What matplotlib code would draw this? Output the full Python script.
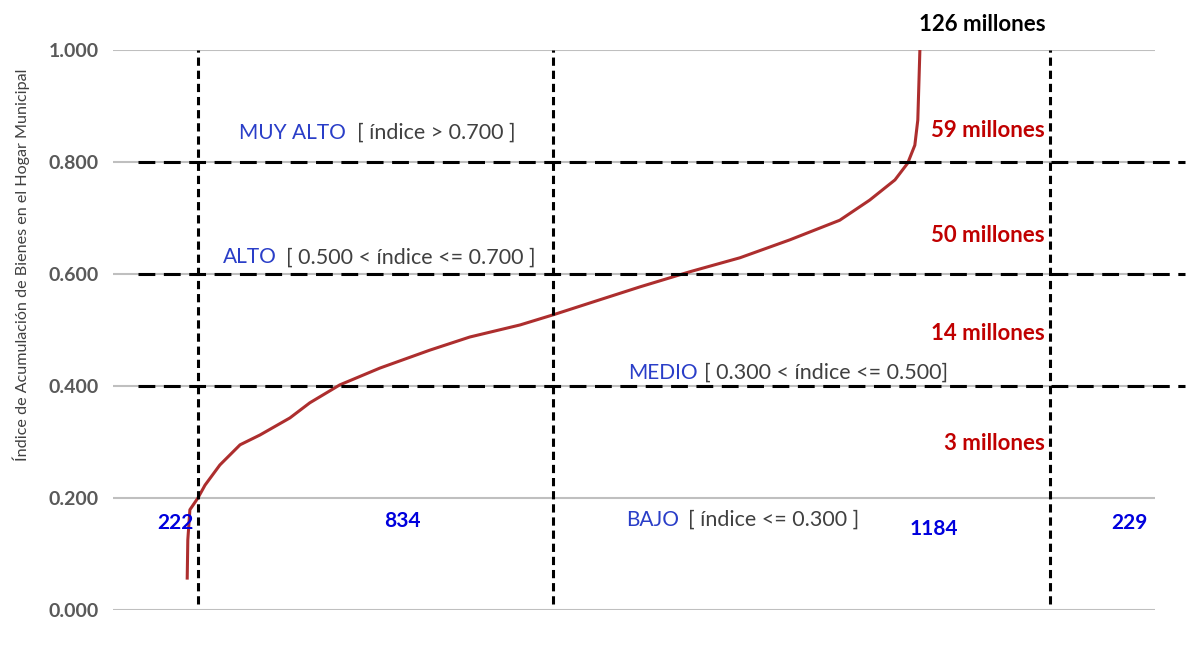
import matplotlib.pyplot as plt

plt.rcParams['font.family'] = ['Lato', 'DejaVu Sans']

# municipios ordenados por indice (rango) y valor del indice
rango = [1, 3, 10, 37, 61, 111, 179, 246, 347, 414, 515, 650, 818, 953, 1122,
         1233, 1391, 1526, 1694, 1863, 2031, 2199, 2300, 2385, 2428, 2452,
         2462, 2466, 2469]
indice = [0.057, 0.125, 0.179, 0.200, 0.223, 0.259, 0.295, 0.3125, 0.343,
          0.370, 0.402, 0.432, 0.464, 0.4875, 0.509, 0.527, 0.554, 0.577,
          0.604, 0.629, 0.661, 0.696, 0.732, 0.768, 0.798, 0.830, 0.875,
          0.946, 1.0]

niveles = ['MUY ALTO', 'ALTO', 'MEDIO', 'BAJO']
rangos_txt = ['[ índice > 0.700 ]', '[ 0.500 < índice <= 0.700 ]',
              '[ 0.300 < índice <= 0.500]', '[ índice <= 0.300 ]']
poblacion = ['59 millones', '50 millones', '14 millones', '3 millones']
conteos = ['222', '834', '1184', '229']

cortes_y = [0.8, 0.6, 0.4]
cortes_x = [37, 1233, 2907]

fig = plt.figure(figsize=(12, 6.51), dpi=100)
ax = fig.add_axes([113/1200, 41/651, 1042/1200, 560/651])
ax.set_xlim(-249, 3261)
ax.set_ylim(0, 1)

ax.set_yticks([0, 0.2, 0.4, 0.6, 0.8, 1.0])
ax.set_yticklabels(['0.000', '0.200', '0.400', '0.600', '0.800', '1.000'],
                   fontsize=14, fontweight='bold', color='#595959')
ax.set_xticks([])
ax.tick_params(axis='y', length=0, pad=10)
for s in ax.spines.values():
    s.set_visible(False)
ax.grid(axis='y', color='#bfbfbf', linewidth=1.5)
ax.set_axisbelow(True)

ax.set_ylabel('Índice de Acumulación de Bienes en el Hogar Municipal',
              fontsize=11.6, color='#404040')
ax.yaxis.set_label_coords(-0.08, 0.616)

ax.plot(rango, indice, color='#ad2e2e', linewidth=2.2, zorder=3)

for y in cortes_y:
    ax.plot([-165, 3361], [y, y], color='black', linewidth=2.2,
            dashes=(5.5, 2.8), clip_on=False, zorder=4)
for x in cortes_x:
    ax.plot([x, x], [0.01, 1.0], color='black', linewidth=2.2,
            dashes=(2.7, 1.6), zorder=4)

# etiquetas de nivel
nivel_pos = [(176, 573, 0.852), (121, 333, 0.630), (1485, 1741, 0.423),
             (1478, 1687, 0.161)]
for nom, txt, (x1, x2, y) in zip(niveles, rangos_txt, nivel_pos):
    ax.text(x1, y, nom, color='#2a3ec8', fontsize=15, va='center', ha='left')
    ax.text(x2, y, txt, color='#404040', fontsize=15.5, va='center', ha='left')

for txt, y in zip(poblacion, [0.857, 0.668, 0.493, 0.298]):
    ax.text(2890, y, txt, color='#c00000', fontsize=16, fontweight='bold',
            va='center', ha='right')
ax.text(2678, 1.045, '126 millones', color='black', fontsize=16,
        fontweight='bold', va='center', ha='center', clip_on=False)

for txt, (x, y) in zip(conteos, [(-40, 0.155), (727, 0.159), (2516, 0.145),
                                 (3176, 0.155)]):
    ax.text(x, y, txt, color='#0000dd', fontsize=15, fontweight='bold',
            va='center', ha='center')

fig.savefig('out.png', dpi=100)
